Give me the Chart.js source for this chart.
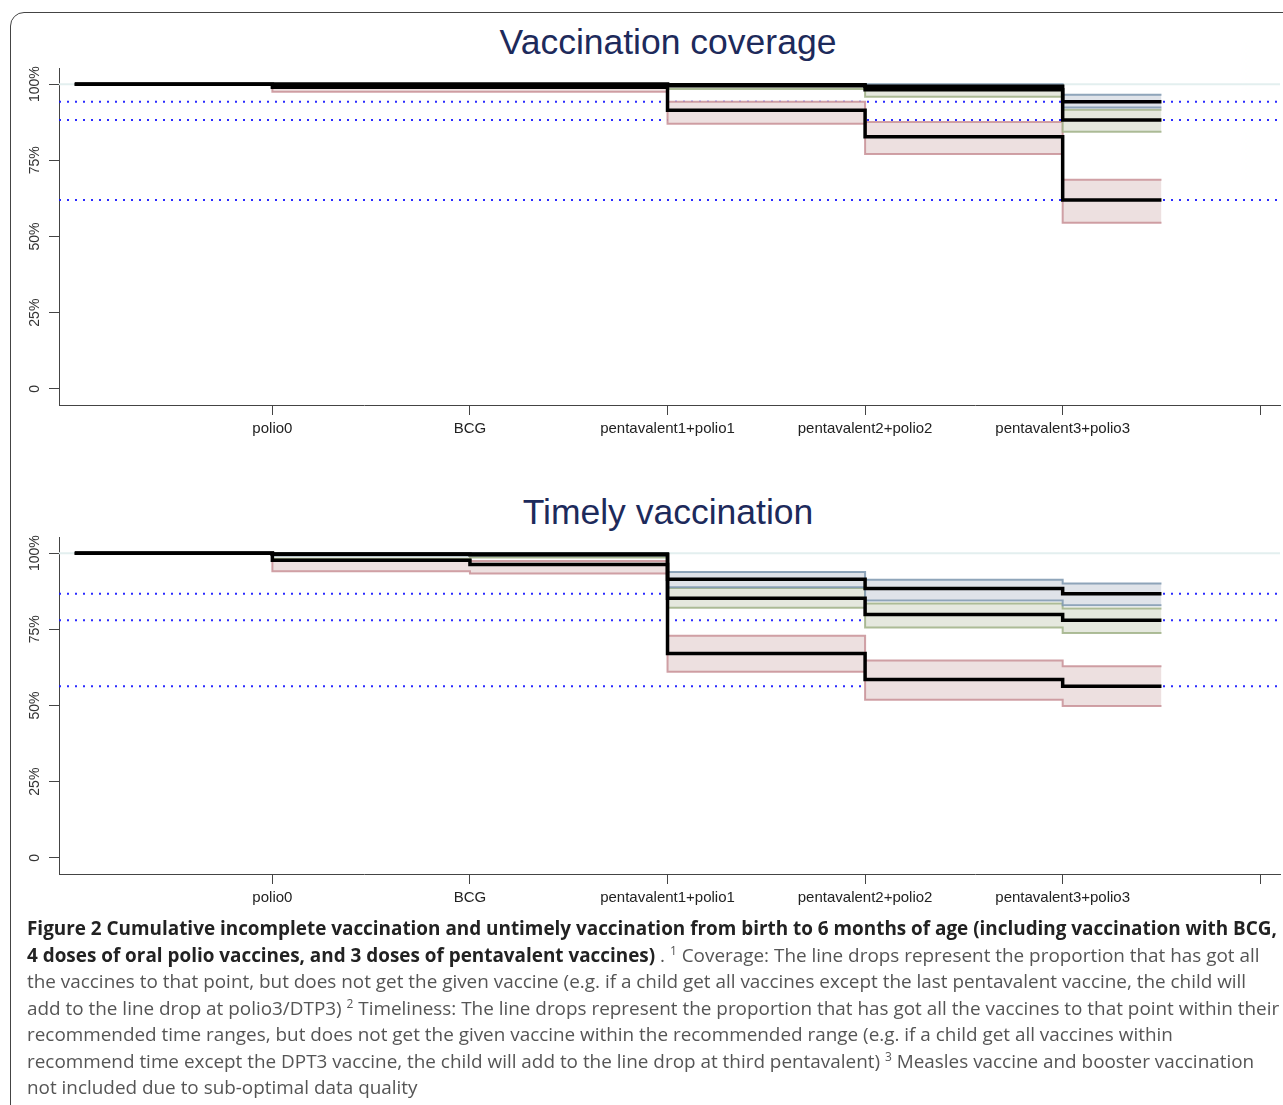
<!DOCTYPE html>
<html>
<head>
<meta charset="utf-8">
<script src="https://cdn.jsdelivr.net/npm/chart.js@4.4.1/dist/chart.umd.min.js"></script>
<style>
	body { margin: 0; background: #fff; width: 1283px; height: 1105px; overflow: hidden; position: relative; font-family: 'Liberation Sans', Arial, sans-serif; }
	.frame { position: absolute; left: 10px; top: 12px; width: 1300px; height: 1200px; border: 1px solid #444; border-radius: 14px; }
	.plot { position: absolute; left: 0; width: 1283px; height: 450px; }
	.title { position: absolute; left: 0; width: 1336px; text-align: center; font-size: 35.5px; line-height: 40px; color: #1d2a5b; }
	.caption { position: absolute; left: 27px; top: 915px; font-family: 'Open Sans', sans-serif; font-size: 18.9px; line-height: 26.5px; color: #555; white-space: nowrap; }
	.caption b { color: #222; }
	.caption sup { font-size: 12px; line-height: 0; }
</style>
</head>
<body>
<div class="frame"></div>
<div class="title" style="top:22px">Vaccination coverage</div>
<div class="plot" style="top:0px"><canvas id="coverage"></canvas></div>
<div class="title" style="top:492px">Timely vaccination</div>
<div class="plot" style="top:469px"><canvas id="timely"></canvas></div>
<div class="caption">
	<div><b>Figure 2 Cumulative incomplete vaccination and untimely vaccination from birth to 6 months of age (including vaccination with BCG,</b></div>
	<div><b>4 doses of oral polio vaccines, and 3 doses of pentavalent vaccines)</b> . <sup>1</sup> Coverage: The line drops represent the proportion that has got all</div>
	<div>the vaccines to that point, but does not get the given vaccine (e.g. if a child get all vaccines except the last pentavalent vaccine, the child will</div>
	<div>add to the line drop at polio3/DTP3) <sup>2</sup> Timeliness: The line drops represent the proportion that has got all the vaccines to that point within their</div>
	<div>recommended time ranges, but does not get the given vaccine within the recommended range (e.g. if a child get all vaccines within</div>
	<div>recommend time except the DPT3 vaccine, the child will add to the line drop at third pentavalent) <sup>3</sup> Measles vaccine and booster vaccination</div>
	<div>not included due to sub-optimal data quality</div>
</div>
<script>
// step positions (start of each segment, last one is where the curves stop)
const stepX = [0, 1, 2, 3, 4, 5, 5.5];
const xLabels = ['polio0', 'BCG', 'pentavalent1+polio1', 'pentavalent2+polio2', 'pentavalent3+polio3'];
const xTicks = [1, 2, 3, 4, 5, 6];
const yTicks = [0, 25, 50, 75, 100];

// Vaccination coverage (%), one value per segment
const covBlue = [100, 100, 100, 99.8, 99.3, 94.2];
const covBlueHi = [100, 100, 100, 100, 100, 96.5];
const covBlueLo = [100, 100, 100, 99.4, 98.6, 92.3];
const covGreen = [100, 100, 100, 99.5, 98.2, 88.2];
const covGreenHi = [100, 100, 100, 100, 99.6, 91.6];
const covGreenLo = [100, 99.7, 99.7, 98.4, 95.9, 84.4];
const covRed = [100, 99.0, 99.0, 91.4, 82.7, 62.0];
const covRedHi = [100, 100, 100, 94.2, 87.6, 68.6];
const covRedLo = [100, 97.5, 97.5, 87.0, 77.1, 54.5];

// Timely vaccination (%)
const timBlue = [100, 99.7, 99.7, 91.4, 88.4, 86.7];
const timBlueHi = [100, 100, 100, 93.8, 91.3, 90.0];
const timBlueLo = [100, 99.2, 99.2, 88.8, 84.5, 82.9];
const timGreen = [100, 99.6, 99.5, 85.2, 79.9, 78.0];
const timGreenHi = [100, 100, 100, 88.6, 83.5, 81.8];
const timGreenLo = [100, 98.1, 98.6, 82.1, 75.6, 73.8];
const timRed = [100, 97.7, 96.3, 67.1, 58.5, 56.3];
const timRedHi = [100, 98.4, 97.4, 72.9, 64.8, 62.9];
const timRedLo = [100, 94.1, 93.3, 61.1, 51.9, 49.8];

const colors = {
	blue: { line: 'rgba(125,150,175,0.85)', fill: '#dfe3e9' },
	green: { line: 'rgba(160,178,135,0.85)', fill: '#e5e8de' },
	red: { line: 'rgba(200,145,150,0.85)', fill: '#ede0e0' }
};

const steps = (values) => {
	const v = values.concat(values[values.length - 1]);
	return stepX.map((x, i) => ({ x: x, y: v[i] }));
};

const flat = (y) => [{ x: -0.08, y: y }, { x: 6.1, y: y }];

const band = (hi, lo, col, order) => [
	{ data: steps(hi), stepped: true, borderColor: col.line, borderWidth: 2, pointRadius: 0, fill: false, order: order },
	{ data: steps(lo), stepped: true, borderColor: col.line, borderWidth: 2, pointRadius: 0, fill: '-1', backgroundColor: col.fill, order: order }
];

const curve = (values) => ({ data: steps(values), stepped: true, borderColor: '#000', borderWidth: 3.5, pointRadius: 0, fill: false, order: 1 });

const refLine = (y) => ({ data: flat(y), borderColor: 'rgba(20,20,255,0.9)', borderWidth: 2, borderDash: [2, 6], pointRadius: 0, fill: false, order: 8 });

const axisGrid = { display: true, drawOnChartArea: false, drawTicks: true, tickLength: 10, color: '#444', lineWidth: 1 };

const makeChart = (id, groups) => {
	let datasets = [{ data: flat(100), borderColor: '#e3efef', borderWidth: 2, pointRadius: 0, fill: false, order: 9 }];
	groups.forEach((g) => datasets.push(refLine(g.mid[g.mid.length - 1])));
	groups.forEach((g, i) => (datasets = datasets.concat(band(g.hi, g.lo, g.col, 5 + i))));
	groups.forEach((g) => datasets.push(curve(g.mid)));

	return new Chart(document.getElementById(id), {
		type: 'line',
		data: { datasets: datasets },
		options: {
			responsive: true,
			maintainAspectRatio: false,
			animation: false,
			devicePixelRatio: 1,
			layout: { padding: { left: 9, right: 3, top: 68, bottom: 7 } },
			plugins: { legend: { display: false }, tooltip: { enabled: false }, title: { display: false } },
			scales: {
				x: {
					type: 'linear',
					min: -0.08,
					max: 6.1,
					afterBuildTicks: (s) => (s.ticks = xTicks.map((v) => ({ value: v }))),
					ticks: {
						callback: (v) => xLabels[v - 1] || '',
						autoSkip: false,
						maxRotation: 0,
						padding: 5,
						color: '#222',
						font: { family: 'Liberation Sans', size: 15 }
					},
					grid: axisGrid,
					border: { display: true, color: '#444', width: 1 }
				},
				y: {
					min: -5.3,
					max: 105.3,
					afterBuildTicks: (s) => (s.ticks = yTicks.map((v) => ({ value: v }))),
					// rotated labels get clipped to the axis box, so make it wide enough
					afterFit: (s) => (s.width = 50),
					ticks: {
						callback: (v) => (v === 0 ? '0' : v + '%'),
						minRotation: 90,
						maxRotation: 90,
						crossAlign: 'center',
						padding: -4,
						color: '#333',
						font: { family: 'Liberation Sans', size: 14 }
					},
					grid: axisGrid,
					border: { display: true, color: '#444', width: 1 }
				}
			}
		}
	});
};

makeChart('coverage', [
	{ mid: covBlue, hi: covBlueHi, lo: covBlueLo, col: colors.blue },
	{ mid: covGreen, hi: covGreenHi, lo: covGreenLo, col: colors.green },
	{ mid: covRed, hi: covRedHi, lo: covRedLo, col: colors.red }
]);
makeChart('timely', [
	{ mid: timBlue, hi: timBlueHi, lo: timBlueLo, col: colors.blue },
	{ mid: timGreen, hi: timGreenHi, lo: timGreenLo, col: colors.green },
	{ mid: timRed, hi: timRedHi, lo: timRedLo, col: colors.red }
]);
</script>
</body>
</html>
